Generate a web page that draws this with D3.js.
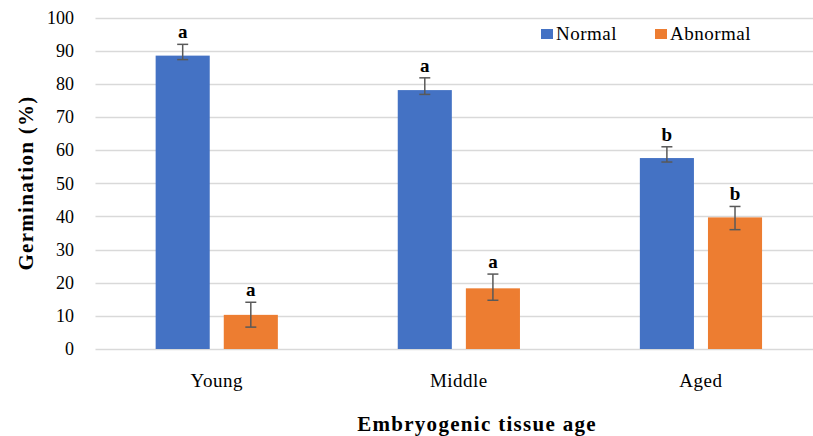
<!DOCTYPE html>
<html>
<head>
<meta charset="utf-8">
<script src="https://cdn.jsdelivr.net/npm/d3@7"></script>
<style>
  html, body { margin: 0; padding: 0; background: #fff; }
  svg { display: block; }
  text { font-family: "Liberation Serif", "Times New Roman", serif; fill: #000; }
</style>
</head>
<body>
<svg id="chart" width="813" height="436"></svg>
<script>
// Germination by embryogenic tissue age
const categories = ["Young", "Middle", "Aged"];
const seriesNames = ["Normal", "Abnormal"];
const seriesColors = ["#4472C4", "#ED7D31"];

const normalValues = [88.5, 78.1, 57.6];
const normalErrUp = [3.4, 3.7, 3.4];
const normalErrDown = [1.2, 1.3, 1.2];
const normalLetters = ["a", "a", "b"];

const abnormalValues = [10.3, 18.3, 39.7];
const abnormalErrUp = [3.8, 4.3, 3.3];
const abnormalErrDown = [3.7, 3.6, 3.7];
const abnormalLetters = ["a", "a", "b"];

const yTicks = [0, 10, 20, 30, 40, 50, 60, 70, 80, 90, 100];

const series = [
  { name: seriesNames[0], values: normalValues, up: normalErrUp, down: normalErrDown, letters: normalLetters },
  { name: seriesNames[1], values: abnormalValues, up: abnormalErrUp, down: abnormalErrDown, letters: abnormalLetters }
];

const rows = [];
series.forEach((s, si) => {
  categories.forEach((c, ci) => {
    rows.push({
      cat: c, series: s.name, color: seriesColors[si],
      value: s.values[ci], hi: s.values[ci] + s.up[ci], lo: s.values[ci] - s.down[ci],
      letter: s.letters[ci]
    });
  });
});

const svg = d3.select("#chart");
const plotLeft = 95.5, plotRight = 813;

const y = d3.scaleLinear().domain([0, 100]).range([349, 17.5]);
const x0 = d3.scaleBand().domain(categories).range([95.7, 822]).paddingInner(0).paddingOuter(0);
const x1 = d3.scaleBand().domain(seriesNames).range([0, x0.bandwidth()]).paddingInner(0.206).paddingOuter(0.88);

// gridlines
svg.append("g").selectAll("line").data(yTicks).join("line")
  .attr("x1", plotLeft).attr("x2", plotRight)
  .attr("y1", d => Math.round(y(d)) + 0.5).attr("y2", d => Math.round(y(d)) + 0.5)
  .attr("stroke", "#D9D9D9").attr("stroke-width", 1.3);

// y tick labels
svg.append("g").selectAll("text").data(yTicks).join("text")
  .attr("x", 74).attr("y", d => y(d)).attr("dy", "0.35em")
  .attr("text-anchor", "end").style("font-size", "18px")
  .text(d => d);

// bars
svg.append("g").selectAll("rect").data(rows).join("rect")
  .attr("x", d => x0(d.cat) + x1(d.series))
  .attr("width", x1.bandwidth())
  .attr("y", d => y(d.value))
  .attr("height", d => y(0) - y(d.value))
  .attr("fill", d => d.color);

// error bars
const eb = svg.append("g").attr("stroke", "#595959").attr("stroke-width", 1.5).attr("fill", "none");
rows.forEach(d => {
  const cx = x0(d.cat) + x1(d.series) + x1.bandwidth() / 2;
  eb.append("line").attr("x1", cx).attr("x2", cx).attr("y1", y(d.hi)).attr("y2", y(d.lo));
  eb.append("line").attr("x1", cx - 5.5).attr("x2", cx + 5.5).attr("y1", y(d.hi)).attr("y2", y(d.hi));
  eb.append("line").attr("x1", cx - 5.5).attr("x2", cx + 5.5).attr("y1", y(d.lo)).attr("y2", y(d.lo));
});

// significance letters
svg.append("g").selectAll("text").data(rows).join("text")
  .attr("x", d => x0(d.cat) + x1(d.series) + x1.bandwidth() / 2)
  .attr("y", d => y(d.hi) - 6)
  .attr("text-anchor", "middle")
  .style("font-size", "19px").style("font-weight", "bold")
  .text(d => d.letter);

// category labels
svg.append("g").selectAll("text").data(categories).join("text")
  .attr("x", d => x0(d) + x0.bandwidth() / 2)
  .attr("y", 387)
  .attr("text-anchor", "middle").style("font-size", "19px").style("letter-spacing", "0.5px")
  .text(d => d);

// axis titles
svg.append("text")
  .attr("x", 477).attr("y", 431)
  .attr("text-anchor", "middle")
  .style("font-size", "21px").style("font-weight", "bold").style("letter-spacing", "1.3px")
  .text("Embryogenic tissue age");

svg.append("text")
  .attr("transform", "translate(33,183) rotate(-90)")
  .attr("text-anchor", "middle")
  .style("font-size", "21px").style("font-weight", "bold").style("letter-spacing", "1.3px")
  .text("Germination (%)");

// legend
const legendX = [541, 655];
const legend = svg.append("g").selectAll("g").data(seriesNames).join("g")
  .attr("transform", (d, i) => `translate(${legendX[i]},0)`);
legend.append("rect").attr("x", 0).attr("y", 29).attr("width", 12).attr("height", 10)
  .attr("fill", (d, i) => seriesColors[i]);
legend.append("text").attr("x", 15).attr("y", 39.5)
  .style("font-size", "19px").style("letter-spacing", "0.5px")
  .text(d => d);
</script>
</body>
</html>
